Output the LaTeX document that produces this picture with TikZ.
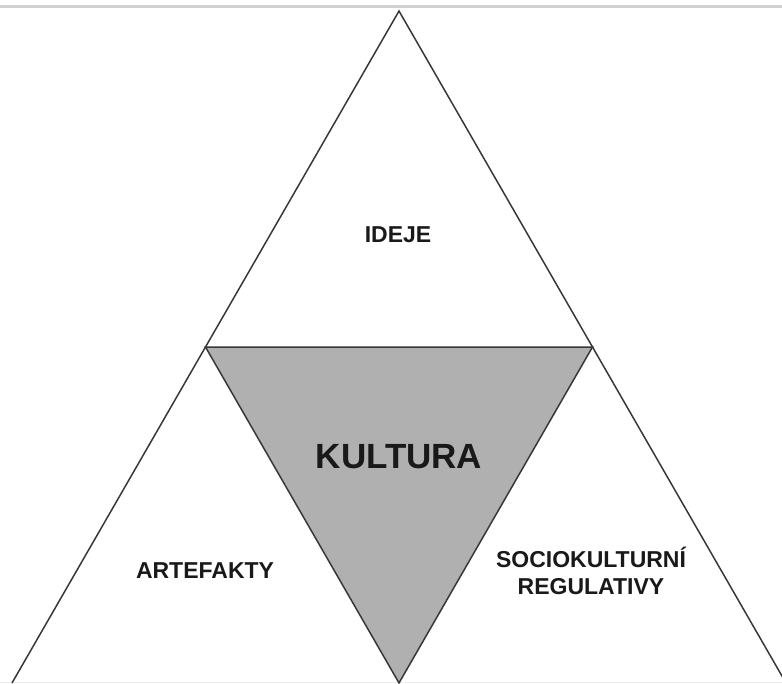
\documentclass[tikz,border=0pt]{standalone}
\usepackage{fontspec}
\setmainfont{Liberation Sans}
\begin{document}
\begin{tikzpicture}[x=1pt, y=-1pt,
    edge/.style={draw=black!78, line width=1.5pt, line join=miter},
    label/.style={font=\bfseries\fontsize{23}{27}\selectfont, text=black!90, align=center},
    core/.style={font=\bfseries\fontsize{35}{40}\selectfont, text=black!90}]
    \useasboundingbox (0,0) rectangle (782,683);

    % Top rule
    \fill[black!18] (0,4.5) rectangle (782,8);
    \draw[black!6, line width=1pt] (0,682.5) -- (782,682.5);

    % Corners of the triangles
    \coordinate (apex) at (399,11);
    \coordinate (left) at (12,683);
    \coordinate (right) at (786,683);
    \coordinate (midl) at (205.5,347);
    \coordinate (midr) at (592.5,347);
    \coordinate (bottom) at (399,683);

    % Inner triangle
    \fill[black!31] (midl) -- (midr) -- (bottom) -- cycle;

    % Outer triangle and inner edges
    \draw[edge] (left) -- (apex) -- (right);
    \draw[edge] (midl) -- (midr) -- (bottom) -- cycle;

    % Labels
    \node[label] (ideje) at (398,235) {IDEJE};
    \node[core] (kultura) at (399,457) {KULTURA};
    \node[label] (artefakty) at (205,571) {ARTEFAKTY};
    \node[label] (regulativy) at (591,571) {SOCIOKULTURNÍ\\REGULATIVY};
\end{tikzpicture}
\end{document}
